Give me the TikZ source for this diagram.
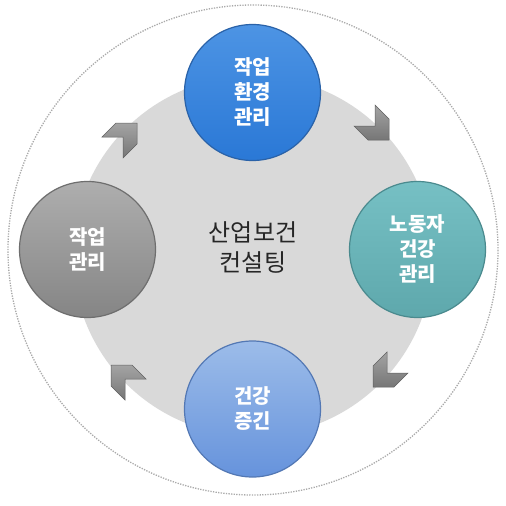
\documentclass[tikz,border=0pt]{standalone}
\usepackage{fontspec}
\newfontfamily\kr{Noto Sans CJK KR}
\usetikzlibrary{shadings}
\definecolor{ringgray}{HTML}{D9D9D9}
\definecolor{dotgray}{HTML}{AAAAAA}
\definecolor{blueT}{HTML}{4D94E4}
\definecolor{blueB}{HTML}{2A78D6}
\definecolor{blueE}{HTML}{2A62A8}
\definecolor{tealT}{HTML}{76C0C4}
\definecolor{tealB}{HTML}{5EA8AC}
\definecolor{tealE}{HTML}{4A8A8E}
\definecolor{grayT}{HTML}{AEAEAE}
\definecolor{grayB}{HTML}{858585}
\definecolor{grayE}{HTML}{6E6E6E}
\definecolor{lblueT}{HTML}{9CBCE9}
\definecolor{lblueB}{HTML}{6693DC}
\definecolor{lblueE}{HTML}{5378B4}
\definecolor{centertext}{HTML}{262626}
\definecolor{chevT}{HTML}{A4A4A4}
\definecolor{chevB}{HTML}{767676}
\definecolor{chevE}{HTML}{606060}
\tikzset{
  bubble/.style={circle, minimum size=136pt, inner sep=0pt, line width=1.2pt,
    align=center, text=white, font=\kr\bfseries\fontsize{20}{25}\selectfont},
  chev/.style={top color=chevT, bottom color=chevB, draw=chevE, line width=0.5pt, line join=miter}
}
\newcommand{\chevron}[4]{%
  \draw[chev, shift={(#1,#2)}, xscale=#3, yscale=#4]
    (-14,-35) -- (0,-21) -- (0,0) -- (-21,0) -- (-35,-14) -- (-14,-14) -- cycle;}
\begin{document}
\begin{tikzpicture}[x=1pt,y=-1pt]
  \fill[white] (0,0) rectangle (506,506);
  \useasboundingbox (0,0) rectangle (506,506);
  \draw[dotgray, line width=1.3pt, dash pattern=on 1.3pt off 1.3pt] (253,250) circle[radius=245];
  \fill[ringgray] (253,256) circle[radius=180];
  \node[font=\kr\fontsize{24}{30}\selectfont, text=centertext, align=center] (center) at (253,247) {산업보건\\컨설팅};
  \node[bubble, top color=blueT, bottom color=blueB, draw=blueE] (work-env) at (252.5,92.5) {작업\\환경\\관리};
  \node[bubble, top color=tealT, bottom color=tealB, draw=tealE] (worker) at (417.5,249.5) {노동자\\건강\\관리};
  \node[bubble, top color=lblueT, bottom color=lblueB, draw=lblueE] (health) at (252.5,409) {건강\\증긴};
  \node[bubble, top color=grayT, bottom color=grayB, draw=grayE] (work) at (87.5,249.5) {작업\\관리};
  \chevron{389}{140}{1}{1}
  \chevron{373}{387}{-1}{1}
  \chevron{111}{365}{-1}{-1}
  \chevron{137}{123}{1}{-1}
\end{tikzpicture}
\end{document}
